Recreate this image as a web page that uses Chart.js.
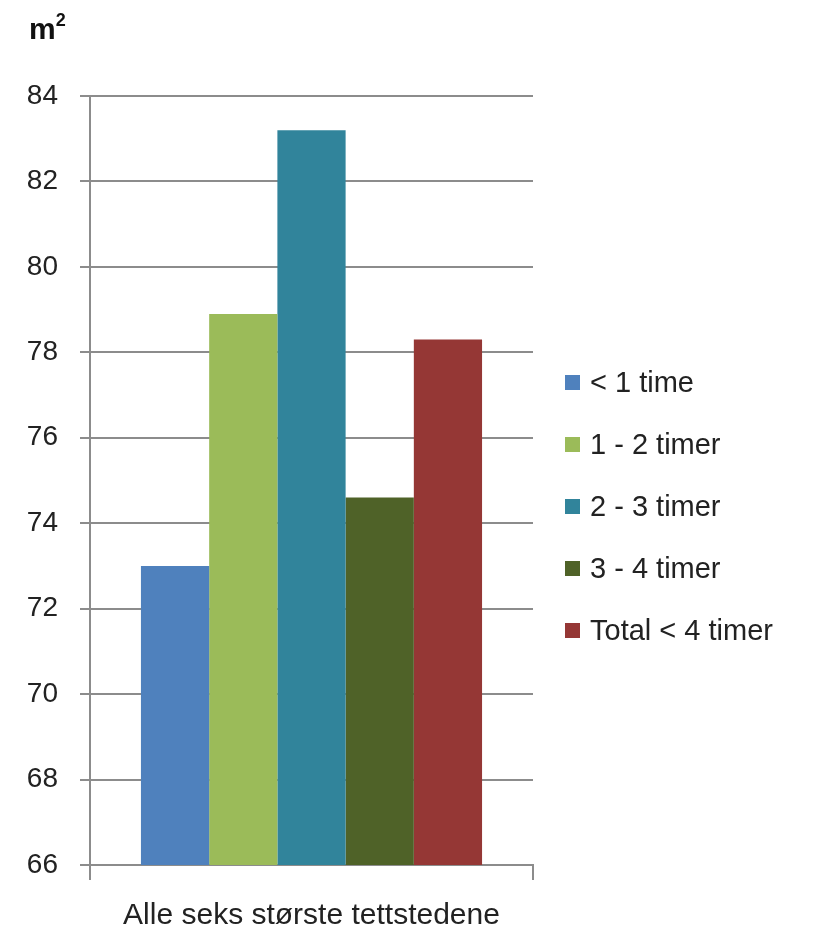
<!DOCTYPE html>
<html>
<head>
<meta charset="utf-8">
<script src="https://cdn.jsdelivr.net/npm/chart.js@4"></script>
<style>
  html, body { margin: 0; padding: 0; background: #fff; }
  #wrap { position: relative; width: 813px; height: 930px; }
  #unit { position: absolute; left: 29px; top: 12px; font: bold 30px 'Liberation Sans', Arial, sans-serif; color: #111; }
  #unit sup { font-size: 18px; position: relative; top: -2px; }
  #legend { position: absolute; left: 565px; top: 363px; font: 29px 'Liberation Sans', Arial, sans-serif; color: #222; }
  #legend div { height: 62px; display: flex; align-items: flex-start; }
  #legend span.box { display: inline-block; width: 15px; height: 15px; margin: 12px 10px 0 0; }
  #legend span.txt { line-height: 38px; }
</style>
</head>
<body>
<div id="wrap">
  <canvas id="chart" width="813" height="930"></canvas>
  <div id="unit">m<sup>2</sup></div>
  <div id="legend"></div>
</div>
<script>
const categories = ['Alle seks største tettstedene']
const seriesNames = ['< 1 time', '1 - 2 timer', '2 - 3 timer', '3 - 4 timer', 'Total < 4 timer']
const seriesValues = [73.0, 78.9, 83.2, 74.6, 78.3]
const seriesColors = ['#4f81bd', '#9bbb59', '#31849b', '#4f6228', '#953735']
const yTicks = [66, 68, 70, 72, 74, 76, 78, 80, 82, 84]

const lineColor = '#8c8c8c'
const textColor = '#222'
const fontFam = "'Liberation Sans', Arial, sans-serif"

const datasets = seriesNames.map((name, i) => ({
  label: name,
  data: [seriesValues[i]],
  backgroundColor: seriesColors[i],
  borderWidth: 0,
  categoryPercentage: 0.77,
  barPercentage: 1
}))

new Chart(document.getElementById('chart'), {
  type: 'bar',
  data: { labels: categories, datasets },
  options: {
    responsive: false,
    animation: false,
    layout: { padding: { top: 96, right: 280, bottom: 0, left: 0 } },
    scales: {
      y: {
        min: yTicks[0],
        max: yTicks[yTicks.length - 1],
        afterBuildTicks: axis => { axis.ticks = yTicks.map(v => ({ value: v })) },
        afterFit: axis => { axis.width = 90 },
        ticks: { color: textColor, font: { family: fontFam, size: 28 }, padding: 22 },
        grid: { color: lineColor, lineWidth: 2, tickLength: 10 },
        border: { color: lineColor, width: 2 }
      },
      x: {
        afterFit: axis => { axis.height = 65 },
        ticks: { color: textColor, font: { family: fontFam, size: 30 }, padding: 18 },
        grid: { color: lineColor, lineWidth: 2, drawOnChartArea: false, tickLength: 15, offset: true },
        border: { color: lineColor, width: 2 }
      }
    },
    plugins: {
      legend: { display: false },
      tooltip: { enabled: false }
    }
  }
})

// ── Legend ──
const legend = document.getElementById('legend')
seriesNames.forEach((name, i) => {
  const row = document.createElement('div')
  row.innerHTML = '<span class="box" style="background:' + seriesColors[i] + '"></span><span class="txt"></span>'
  row.querySelector('.txt').textContent = name
  legend.appendChild(row)
})
</script>
</body>
</html>
